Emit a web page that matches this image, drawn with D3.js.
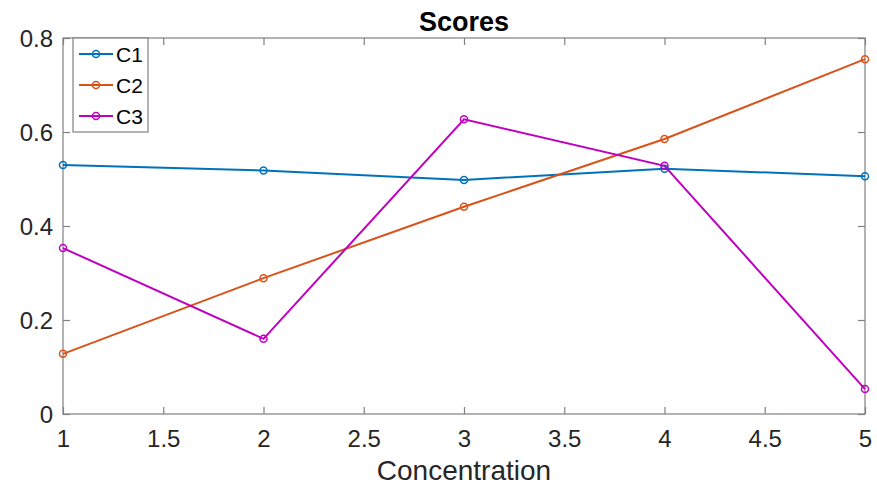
<!DOCTYPE html>
<html><head><meta charset="utf-8">
<script src="https://cdn.jsdelivr.net/npm/d3@7"></script>
<style>body{margin:0;background:#fff;} svg{display:block;font-family:"Liberation Sans",Arial,sans-serif;}</style>
</head><body><svg id="c" width="877" height="485"></svg>
<script>
const xValues = [1, 2, 3, 4, 5];
const seriesNames = ["C1", "C2", "C3"];
const c1 = [0.530, 0.518, 0.498, 0.522, 0.506];
const c2 = [0.128, 0.289, 0.441, 0.585, 0.755];
const c3 = [0.353, 0.160, 0.627, 0.528, 0.053];
const xTicks = [1, 1.5, 2, 2.5, 3, 3.5, 4, 4.5, 5];
const yTicks = [0, 0.2, 0.4, 0.6, 0.8];
const colors = ["#0072BD", "#D95319", "#C000C0"];
const series = [c1, c2, c3];

const svg = d3.select("#c");
const L = 63, R = 865, T = 38, B = 414;
const x = d3.scaleLinear().domain([1, 5]).range([L, R]);
const y = d3.scaleLinear().domain([0, 0.8]).range([B, T]);
const axisColor = "#808080", textColor = "#262626";
const tk = 7;

// box
svg.append("rect").attr("x", L).attr("y", T).attr("width", R - L).attr("height", B - T)
  .attr("fill", "none").attr("stroke", axisColor).attr("stroke-width", 1.2);

const fmt = d => String(d);
const xa = svg.append("g").attr("transform", `translate(0,${B})`)
  .call(d3.axisBottom(x).tickValues(xTicks).tickFormat(fmt).tickSizeInner(-tk).tickSizeOuter(0));
const xt = svg.append("g").attr("transform", `translate(0,${T})`)
  .call(d3.axisTop(x).tickValues(xTicks).tickFormat("").tickSizeInner(-tk).tickSizeOuter(0));
const ya = svg.append("g").attr("transform", `translate(${L},0)`)
  .call(d3.axisLeft(y).tickValues(yTicks).tickFormat(fmt).tickSizeInner(-tk).tickSizeOuter(0).tickPadding(10));
const yr = svg.append("g").attr("transform", `translate(${R},0)`)
  .call(d3.axisRight(y).tickValues(yTicks).tickFormat("").tickSizeInner(-tk).tickSizeOuter(0));
[xa, xt, ya, yr].forEach(g => {
  g.select(".domain").remove();
  g.attr("font-size", null).attr("font-family", null);
  g.selectAll("line").attr("stroke", axisColor).attr("stroke-width", 1.2);
  g.selectAll("text").attr("fill", textColor).style("font-size", "24px")
   .style("font-family", "'Liberation Sans',Arial,sans-serif");
});
xa.selectAll("text").attr("y", 33).attr("dy", 0);
ya.selectAll("text").attr("dy", "0.36em");

// lines
const line = d3.line().x((d, i) => x(xValues[i])).y(d => y(d));
series.forEach((s, k) => {
  svg.append("path").datum(s).attr("d", line).attr("fill", "none")
    .attr("stroke", colors[k]).attr("stroke-width", 2);
  svg.append("g").selectAll("circle").data(s).join("circle")
    .attr("cx", (d, i) => x(xValues[i])).attr("cy", d => y(d)).attr("r", 3.5)
    .attr("fill", "none").attr("stroke", colors[k]).attr("stroke-width", 1.5);
});

// title
svg.append("text").attr("x", (L + R) / 2).attr("y", 31).attr("text-anchor", "middle")
  .attr("fill", "#000").style("font-size", "27px").style("font-weight", "bold").text("Scores");
// xlabel
svg.append("text").attr("x", (L + R) / 2).attr("y", 480).attr("text-anchor", "middle")
  .attr("fill", textColor).style("font-size", "28px").text("Concentration");

// legend
const lg = svg.append("g");
lg.append("rect").attr("x", 73).attr("y", 38).attr("width", 75).attr("height", 94)
  .attr("fill", "#fff").attr("stroke", axisColor).attr("stroke-width", 1.2);
seriesNames.forEach((n, k) => {
  const yy = 54 + k * 31;
  lg.append("line").attr("x1", 79).attr("x2", 113).attr("y1", yy).attr("y2", yy)
    .attr("stroke", colors[k]).attr("stroke-width", 2);
  lg.append("circle").attr("cx", 96).attr("cy", yy).attr("r", 3.5).attr("fill", "none")
    .attr("stroke", colors[k]).attr("stroke-width", 1.5);
  lg.append("text").attr("x", 116).attr("y", yy).attr("dy", "0.36em").attr("fill", "#000")
    .style("font-size", "21px").text(n);
});
</script></body></html>
